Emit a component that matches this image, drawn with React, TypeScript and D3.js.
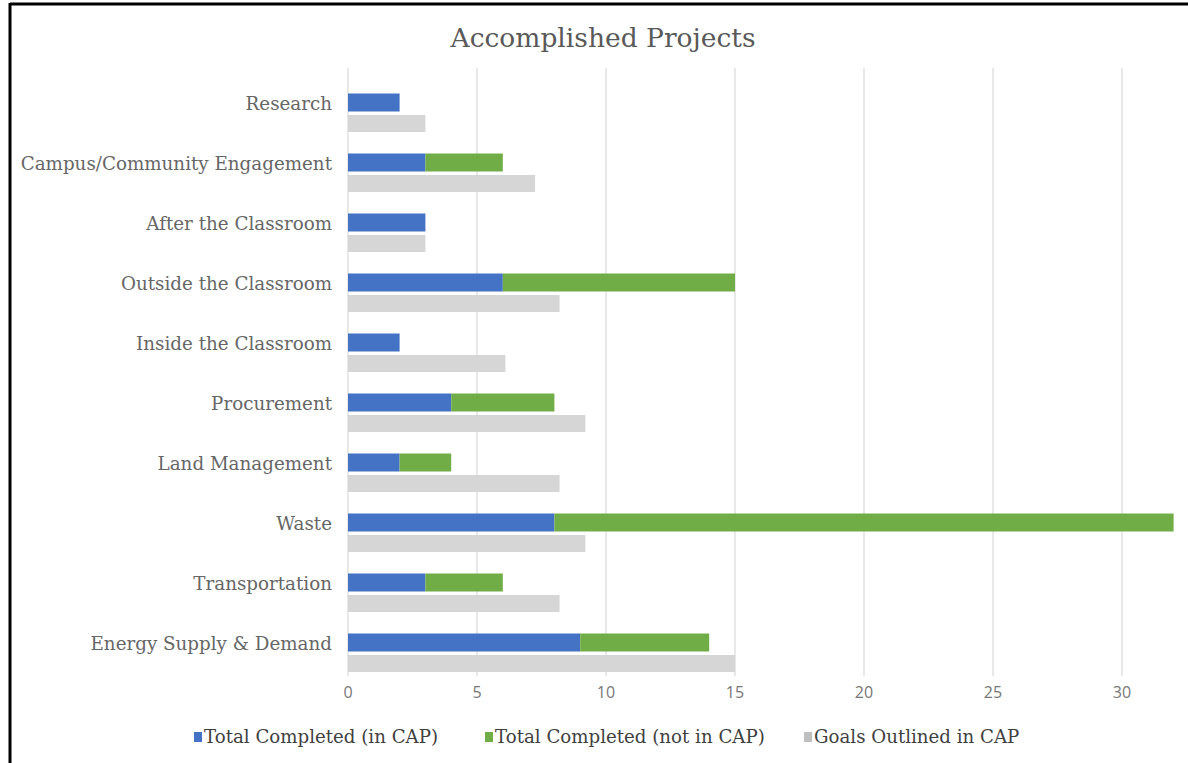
import React from "react";
import * as d3 from "d3";

const categories = [
  "Research",
  "Campus/Community Engagement",
  "After the Classroom",
  "Outside the Classroom",
  "Inside the Classroom",
  "Procurement",
  "Land Management",
  "Waste",
  "Transportation",
  "Energy Supply & Demand",
];
const completedInCap = [2, 3, 3, 6, 2, 4, 2, 8, 3, 9];
const completedNotInCap = [0, 3, 0, 9, 0, 4, 2, 24, 3, 5];
const goalsInCap = [3, 7.25, 3, 8.2, 6.1, 9.2, 8.2, 9.2, 8.2, 15];
const xTicks = [0, 5, 10, 15, 20, 25, 30];
const seriesNames = [
  "Total Completed (in CAP)",
  "Total Completed (not in CAP)",
  "Goals Outlined in CAP",
];
const colors = ["#4472C4", "#70AD47", "#D6D6D6"];

export default function App() {
  const W = 1188;
  const H = 763;
  const x = d3.scaleLinear().domain([0, 32]).range([348, 348 + 25.8 * 32]);
  const y = d3.scaleBand<string>().domain(categories).range([83, 683]).paddingInner(0).paddingOuter(0);
  const barH = 18;
  const serif = "'DejaVu Serif', 'Liberation Serif', serif";
  const sans = "'Liberation Sans Narrow', 'Open Sans', sans-serif";
  const legendX = [194, 485, 804];
  return (
    <svg width={W} height={H} style={{ position: "absolute", left: 0, top: 0, background: "#fff" }}>
      <rect x={0} y={0} width={W} height={H} fill="#fff" />
      {/* border */}
      <line x1={10} y1={4} x2={W} y2={4} stroke="#000" strokeWidth={3} />
      <line x1={10} y1={3} x2={10} y2={H} stroke="#000" strokeWidth={3} />
      <text x={603} y={47} textAnchor="middle" fontFamily={serif} fontSize={26.5} fill="#595959">
        Accomplished Projects
      </text>
      {/* gridlines */}
      {xTicks.map((t) => (
        <line key={t} x1={x(t)} x2={x(t)} y1={68} y2={676} stroke="#E0E0E0" strokeWidth={1.5} />
      ))}
      {/* bars */}
      {categories.map((c, i) => {
        const cy = (y(c) as number) + y.bandwidth() / 2;
        const yb = cy - 19.5;
        const yg = cy + 2;
        return (
          <g key={c}>
            <rect x={x(0)} y={yb} width={x(completedInCap[i]) - x(0)} height={barH} fill={colors[0]} />
            {completedNotInCap[i] > 0 && (
              <rect
                x={x(completedInCap[i])}
                y={yb}
                width={x(completedInCap[i] + completedNotInCap[i]) - x(completedInCap[i])}
                height={barH}
                fill={colors[1]}
              />
            )}
            <rect x={x(0)} y={yg} width={x(goalsInCap[i]) - x(0)} height={17} fill={colors[2]} />
            <text x={332} y={cy - 8} textAnchor="end" fontFamily={serif} fontSize={18.3} fill="#666" dominantBaseline="middle">
              {c}
            </text>
          </g>
        );
      })}
      {/* x tick labels */}
      {xTicks.map((t) => (
        <text key={"t" + t} x={x(t)} y={698} textAnchor="middle" fontFamily={sans} fontSize={16} fill="#777">
          {t}
        </text>
      ))}
      {/* legend */}
      {seriesNames.map((s, i) => (
        <g key={s}>
          <rect x={legendX[i]} y={732} width={8} height={10} fill={colors[i] === "#D6D6D6" ? "#BFBFBF" : colors[i]} />
          <text x={legendX[i] + 10} y={743} fontFamily={serif} fontSize={18.2} fill="#3f3f3f">
            {s}
          </text>
        </g>
      ))}
    </svg>
  );
}
